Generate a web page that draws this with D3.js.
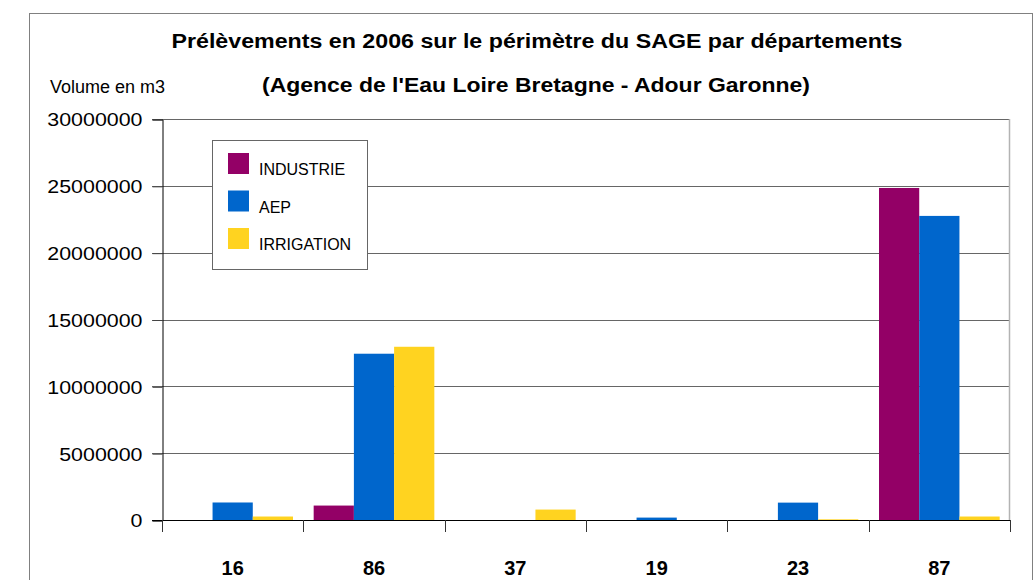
<html>
<head>
  <meta charset='utf-8' />
  <style>
    body { margin: 0; padding: 0; background: white; }
    text { font-family: 'Liberation Sans', Arial, sans-serif; }
  </style>
</head>
<body>
<svg width="1034" height="580"></svg>
<script src="https://d3js.org/d3.v7.min.js"></script>
<script>
  // data
  departements = ['16', '86', '37', '19', '23', '87'];
  series = ['INDUSTRIE', 'AEP', 'IRRIGATION'];
  industrie = [0, 1080000, 0, 0, 0, 24840000];
  aep = [1310000, 12440000, 0, 180000, 1300000, 22750000];
  irrigation = [260000, 12960000, 780000, 0, 50000, 260000];
  yTicks = [0, 5000000, 10000000, 15000000, 20000000, 25000000, 30000000];
  colors = ['#930066', '#0066cc', '#ffd320'];

  values = [industrie, aep, irrigation];

  svg = d3.select('svg');

  // outer frame
  svg.append('rect')
    .attr('x', 29.5).attr('y', 13.5)
    .attr('width', 1003).attr('height', 600)
    .attr('fill', 'white').attr('stroke', '#808080');

  // titles
  svg.append('text')
    .attr('x', 537).attr('y', 48)
    .attr('text-anchor', 'middle')
    .attr('textLength', 731).attr('lengthAdjust', 'spacingAndGlyphs')
    .style('font-weight', 'bold').style('font-size', '20px')
    .text('Prélèvements en 2006 sur le périmètre du SAGE par départements');

  svg.append('text')
    .attr('x', 536).attr('y', 92)
    .attr('text-anchor', 'middle')
    .attr('textLength', 548).attr('lengthAdjust', 'spacingAndGlyphs')
    .style('font-weight', 'bold').style('font-size', '20px')
    .text("(Agence de l'Eau Loire Bretagne - Adour Garonne)");

  svg.append('text')
    .attr('x', 50).attr('y', 93)
    .style('font-size', '18px')
    .text('Volume en m3');

  // scales
  x = d3.scaleBand().domain(departements).range([162, 1010]);
  xs = d3.scaleBand().domain(series).range([0, x.bandwidth()]).paddingOuter(0.257);
  y = d3.scaleLinear().domain([0, 30000000]).range([520, 119]);

  // gridlines
  svg.append('g')
    .selectAll('line')
    .data(yTicks.filter(d => d > 0))
    .enter().append('line')
    .attr('x1', 152).attr('x2', 1010)
    .attr('y1', d => Math.round(y(d)) + 0.5)
    .attr('y2', d => Math.round(y(d)) + 0.5)
    .attr('stroke', '#666');

  // plot right border
  svg.append('line')
    .attr('x1', 1009.5).attr('x2', 1009.5)
    .attr('y1', 119).attr('y2', 520)
    .attr('stroke', '#b3b3b3').attr('stroke-width', 1.5);

  // bars
  series.forEach((s, i) => {
    svg.append('g')
      .selectAll('rect')
      .data(departements)
      .enter().append('rect')
      .attr('x', d => x(d) + xs(s))
      .attr('width', xs.bandwidth())
      .attr('y', (d, j) => y(values[i][j]))
      .attr('height', (d, j) => y(0) - y(values[i][j]))
      .attr('fill', colors[i]);
  });

  // y axis
  yAxis = d3.axisLeft(y).tickValues(yTicks).tickSize(10).tickPadding(10).tickFormat(d3.format('d'));
  yg = svg.append('g')
    .attr('transform', 'translate(162.5,0.5)')
    .call(yAxis);
  yg.select('.domain').attr('stroke', 'black');
  yg.selectAll('.tick line').attr('stroke', '#444');
  yg.selectAll('.tick text')
    .style('font-size', '18px')
    .style('font-family', "'Liberation Sans', Arial, sans-serif")
    .attr('fill', '#000')
    .attr('dy', '0.36em')
    .attr('textLength', d => String(d).length * 11.9)
    .attr('lengthAdjust', 'spacingAndGlyphs');

  // x axis baseline + ticks
  svg.append('line')
    .attr('x1', 152).attr('x2', 1010)
    .attr('y1', 520.5).attr('y2', 520.5)
    .attr('stroke', 'black');

  bounds = departements.map(d => x(d)).concat([x.range()[1]]);
  svg.append('g')
    .selectAll('line')
    .data(bounds)
    .enter().append('line')
    .attr('x1', d => Math.round(d) + 0.5).attr('x2', d => Math.round(d) + 0.5)
    .attr('y1', 520).attr('y2', 532)
    .attr('stroke', '#333');

  svg.append('g')
    .selectAll('text')
    .data(departements)
    .enter().append('text')
    .attr('x', d => x(d) + x.bandwidth() / 2)
    .attr('y', 575)
    .attr('text-anchor', 'middle')
    .style('font-weight', 'bold').style('font-size', '20px')
    .text(d => d);

  // legend
  legend = svg.append('g');
  legend.append('rect')
    .attr('x', 212.5).attr('y', 140.5)
    .attr('width', 155).attr('height', 129)
    .attr('fill', 'white').attr('stroke', '#666');

  legendY = d3.scalePoint().domain(series).range([153, 228]);
  legend.selectAll('.sw')
    .data(series)
    .enter().append('rect')
    .attr('x', 228).attr('y', d => legendY(d))
    .attr('width', 21).attr('height', 21)
    .attr('fill', (d, i) => colors[i]);

  legend.selectAll('.lt')
    .data(series)
    .enter().append('text')
    .attr('x', 259).attr('y', d => legendY(d) + 22)
    .style('font-size', '16px')
    .text(d => d);
</script>
</body>
</html>
